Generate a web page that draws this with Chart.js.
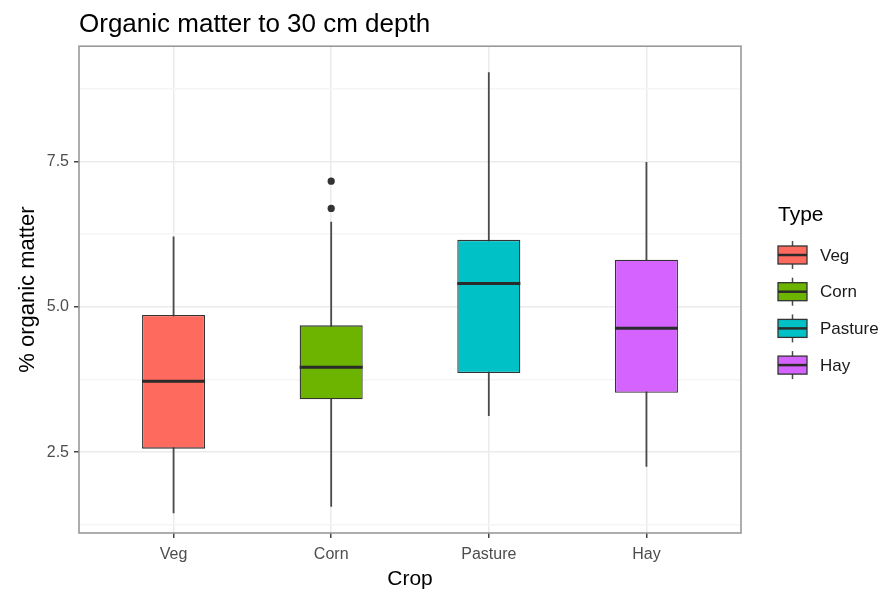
<!DOCTYPE html>
<html>
<head>
<meta charset="utf-8">
<title>Organic matter to 30 cm depth</title>
<script src="https://cdn.jsdelivr.net/npm/chart.js@4.4.1/dist/chart.umd.min.js"></script>
<style>
  html, body { margin: 0; padding: 0; background: #fff; }
</style>
</head>
<body>
<canvas id="organic" width="892" height="592"></canvas>
<script>
// five-number summaries per crop (% organic matter, 0-30 cm)
var crops = ["Veg", "Corn", "Pasture", "Hay"];
var fillColors = ["#FF6A5F", "#6CB400", "#00C2C6", "#D563FF"];
var whiskerLow = [1.45, 1.56, 3.12, 2.25];
var boxLow = [2.56, 3.41, 3.86, 3.52];
var medians = [3.72, 3.96, 5.40, 4.63];
var boxHigh = [4.86, 4.68, 6.15, 5.81];
var whiskerHigh = [6.21, 6.46, 9.03, 7.49];
// points beyond the whiskers (crop position, value)
var outlierCrop = [2, 2];
var outlierValues = [7.16, 6.69];
// y grid: every 1.25, labels on the 2.5 steps
var yTicks = [1.25, 2.5, 3.75, 5.0, 6.25, 7.5, 8.75];
var yLabelled = [2.5, 5.0, 7.5];

Chart.defaults.font.family = "'Liberation Sans', Arial, Helvetica, sans-serif";

function isMajor(v) {
  return yLabelled.indexOf(v) >= 0;
}

// whiskers under the boxes, medians and panel frame on top
var boxplotParts = {
  id: 'boxplotParts',
  beforeDatasetsDraw: function(chart) {
    var ctx = chart.ctx, y = chart.scales.y;
    var bars = chart.getDatasetMeta(1).data;
    ctx.save();
    ctx.strokeStyle = '#4a4a4a';
    ctx.lineWidth = 1.8;
    bars.forEach(function(bar, i) {
      ctx.beginPath();
      ctx.moveTo(bar.x, y.getPixelForValue(whiskerLow[i]));
      ctx.lineTo(bar.x, y.getPixelForValue(whiskerHigh[i]));
      ctx.stroke();
    });
    ctx.restore();
  },
  afterDatasetsDraw: function(chart) {
    var ctx = chart.ctx, y = chart.scales.y, a = chart.chartArea;
    var bars = chart.getDatasetMeta(1).data;
    ctx.save();
    ctx.strokeStyle = '#2b2b2b';
    ctx.lineWidth = 3;
    bars.forEach(function(bar, i) {
      var py = y.getPixelForValue(medians[i]);
      ctx.beginPath();
      ctx.moveTo(bar.x - bar.width / 2, py);
      ctx.lineTo(bar.x + bar.width / 2, py);
      ctx.stroke();
    });
    ctx.strokeStyle = '#999';
    ctx.lineWidth = 1.6;
    ctx.strokeRect(a.left, a.top, a.right - a.left, a.bottom - a.top);
    ctx.restore();
  }
};

// "Type" legend with small boxplot keys
var typeLegend = {
  id: 'typeLegend',
  afterDraw: function(chart) {
    var ctx = chart.ctx, a = chart.chartArea;
    var left = a.right + 37, cx = left + 14.5;
    ctx.save();
    ctx.fillStyle = '#000';
    ctx.textBaseline = 'middle';
    ctx.font = "21px 'Liberation Sans', Arial, sans-serif";
    ctx.fillText('Type', left, 215);
    crops.forEach(function(name, i) {
      var cy = 255 + i * 36.7;
      ctx.strokeStyle = '#4a4a4a';
      ctx.lineWidth = 1.5;
      ctx.beginPath();
      ctx.moveTo(cx, cy - 14);
      ctx.lineTo(cx, cy + 14);
      ctx.stroke();
      ctx.fillStyle = fillColors[i];
      ctx.fillRect(left, cy - 9, 29, 18);
      ctx.strokeStyle = '#333';
      ctx.lineWidth = 1.3;
      ctx.strokeRect(left, cy - 9, 29, 18);
      ctx.lineWidth = 2.5;
      ctx.strokeStyle = '#2b2b2b';
      ctx.beginPath();
      ctx.moveTo(left, cy);
      ctx.lineTo(left + 29, cy);
      ctx.stroke();
      ctx.fillStyle = '#1a1a1a';
      ctx.font = "17px 'Liberation Sans', Arial, sans-serif";
      ctx.fillText(name, left + 42, cy + 1);
    });
    ctx.restore();
  }
};

new Chart(document.getElementById('organic'), {
  type: 'bar',
  data: {
    datasets: [{
      type: 'scatter',
      data: outlierCrop.map(function(c, i) { return {x: c, y: outlierValues[i]}; }),
      pointRadius: 3.6,
      backgroundColor: '#333',
      borderWidth: 0,
      order: 0
    }, {
      type: 'bar',
      data: crops.map(function(c, i) { return {x: i + 1, y: [boxLow[i], boxHigh[i]]}; }),
      backgroundColor: fillColors,
      borderColor: '#333',
      borderWidth: 1.3,
      borderSkipped: false,
      categoryPercentage: 0.4,
      barPercentage: 1,
      order: 1
    }]
  },
  options: {
    responsive: false,
    animation: false,
    devicePixelRatio: 1,
    layout: { padding: { right: 151 } },
    plugins: {
      legend: { display: false },
      tooltip: { enabled: false },
      title: {
        display: true,
        text: 'Organic matter to 30 cm depth',
        align: 'start',
        fullSize: false,
        color: '#000',
        font: { size: 26, weight: 'normal' },
        padding: { top: 9, bottom: 6 }
      }
    },
    scales: {
      x: {
        type: 'linear',
        min: 0.4,
        max: 4.6,
        offset: false,
        afterBuildTicks: function(s) {
          s.ticks = crops.map(function(c, i) { return {value: i + 1}; });
        },
        afterFit: function(s) { s.height = 59; },
        ticks: {
          callback: function(v) { return crops[v - 1]; },
          color: '#4d4d4d',
          font: { size: 16 },
          padding: 7,
          maxRotation: 0,
          autoSkip: false
        },
        grid: {
          offset: false,
          color: '#ebebeb',
          lineWidth: 1.5,
          tickLength: 5,
          tickColor: '#444',
          tickWidth: 1.5
        },
        border: { display: false },
        title: {
          display: true,
          text: 'Crop',
          color: '#000',
          font: { size: 21 },
          padding: { top: 0, bottom: 0 }
        }
      },
      y: {
        type: 'linear',
        min: 1.11,
        max: 9.48,
        afterBuildTicks: function(s) {
          s.ticks = yTicks.map(function(v) { return {value: v}; });
        },
        afterFit: function(s) { s.width = 79; },
        ticks: {
          callback: function(v) { return isMajor(v) ? v.toFixed(1) : ''; },
          color: '#4d4d4d',
          font: { size: 16 },
          padding: 5
        },
        grid: {
          color: function(c) { return isMajor(c.tick.value) ? '#ebebeb' : '#f5f5f5'; },
          lineWidth: 1.5,
          tickLength: 5,
          tickWidth: 1.5,
          tickColor: function(c) { return isMajor(c.tick.value) ? '#444' : 'rgba(0,0,0,0)'; }
        },
        border: { display: false },
        title: {
          display: true,
          text: '% organic matter',
          color: '#000',
          font: { size: 22 },
          padding: { top: 15, bottom: 0 }
        }
      }
    }
  },
  plugins: [boxplotParts, typeLegend]
});
</script>
</body>
</html>
